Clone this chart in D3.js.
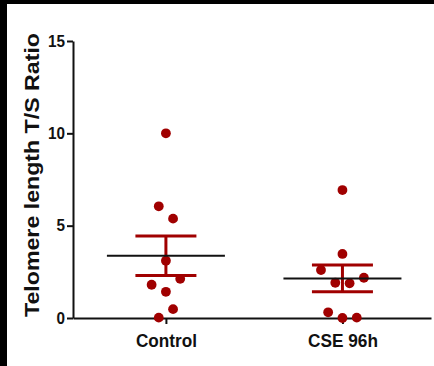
<!DOCTYPE html>
<html>
<head>
<meta charset="utf-8">
<script src="https://cdn.jsdelivr.net/npm/d3@7"></script>
<style>
  html, body { margin: 0; padding: 0; background: #fff; }
  svg { display: block; font-family: "Liberation Sans", Arial, sans-serif; }
</style>
</head>
<body>
<div id="chart"></div>
<script>
// values (row order = left-to-right order in the swarm)
const categories = ['Control', 'CSE 96h'];
const controlValues = [10.0, 6.05, 5.38, 3.1, 1.8, 1.42, 2.12, 0.02, 0.48];
const cseValues = [6.93, 3.47, 2.6, 1.91, 1.88, 2.18, 0.31, 0.0, 0.02];
const yTicks = [0, 5, 10, 15];
const yTitle = 'Telomere length T/S Ratio';

const groups = [
  { name: categories[0], values: controlValues },
  { name: categories[1], values: cseValues }
];

const width = 434;
const height = 366;
const dotColor = '#a00000';
const axisColor = '#111';

const svg = d3.select('#chart')
  .append('svg')
  .attr('width', width)
  .attr('height', height);

svg.append('rect').attr('width', width).attr('height', height).attr('fill', '#fff');
// black frame strips from the original screenshot
svg.append('rect').attr('x', 0).attr('y', 0).attr('width', 7).attr('height', height).attr('fill', '#000');
svg.append('rect').attr('x', 0).attr('y', 0).attr('width', width).attr('height', 4).attr('fill', '#000');

const x = d3.scalePoint()
  .domain(categories)
  .range([73, 431])
  .padding(0.514)
  .align(0.512);

const y = d3.scaleLinear()
  .domain([0, 15])
  .range([318, 41]);

// y axis
const yAxis = svg.append('g')
  .attr('transform', 'translate(73,0)')
  .call(d3.axisLeft(y)
    .tickValues(yTicks)
    .tickSize(6)
    .tickSizeOuter(0)
    .tickPadding(2)
  );
yAxis.select('.domain').attr('stroke', axisColor).attr('stroke-width', 2);
yAxis.selectAll('.tick line').attr('stroke', axisColor).attr('stroke-width', 2);
yAxis.selectAll('.tick text')
  .attr('fill', '#111')
  .attr('font-size', 16.5)
  .attr('font-weight', 'bold')
  .attr('font-family', '"Liberation Sans", Arial, sans-serif')
  .attr('textLength', d => String(d).length * 8.5)
  .attr('lengthAdjust', 'spacingAndGlyphs');

// x axis
const xAxis = svg.append('g')
  .attr('transform', 'translate(0,318)')
  .call(d3.axisBottom(x)
    .tickSize(6)
    .tickSizeOuter(0)
    .tickPadding(10)
  );
xAxis.select('.domain').attr('stroke', axisColor).attr('stroke-width', 2);
xAxis.selectAll('.tick line').attr('stroke', axisColor).attr('stroke-width', 2);
xAxis.selectAll('.tick text')
  .attr('fill', '#111')
  .attr('font-size', 18)
  .attr('font-weight', 'bold')
  .attr('font-family', '"Liberation Sans", Arial, sans-serif')
  .attr('dy', '0.7em')
  .attr('textLength', d => d === 'Control' ? 61 : 70)
  .attr('lengthAdjust', 'spacingAndGlyphs');

// y title
svg.append('text')
  .attr('transform', 'translate(38.5,175) rotate(-90)')
  .attr('text-anchor', 'middle')
  .attr('font-size', 20)
  .attr('font-weight', 'bold')
  .attr('fill', '#111')
  .attr('textLength', 284)
  .attr('lengthAdjust', 'spacingAndGlyphs')
  .text(yTitle);

// simple row-based swarm: points closer than rowGap px share a row, centred on the category
const rowGap = 14;
const spacing = 14.3;
function swarm(values) {
  const idx = values.map((v, i) => i).sort((a, b) => values[a] - values[b]);
  const rows = [];
  idx.forEach(i => {
    const last = rows[rows.length - 1];
    if (last && y(values[last[0]]) - y(values[i]) < rowGap) last.push(i);
    else rows.push([i]);
  });
  const offsets = new Array(values.length).fill(0);
  rows.forEach(r => {
    r.sort((a, b) => a - b);
    r.forEach((i, k) => { offsets[i] = (k - (r.length - 1) / 2) * spacing; });
  });
  return values.map((v, i) => ({ v, dx: offsets[i] }));
}

groups.forEach(g => {
  const cx = x(g.name);
  const pts = swarm(g.values);
  const mean = d3.mean(g.values);
  const sem = d3.deviation(g.values) / Math.sqrt(g.values.length);

  svg.append('g')
    .selectAll('circle')
    .data(pts)
    .join('circle')
    .attr('cx', d => cx + d.dx)
    .attr('cy', d => y(d.v))
    .attr('r', 4.9)
    .attr('fill', dotColor);

  const eb = svg.append('g')
    .attr('stroke', dotColor)
    .attr('stroke-width', 3);
  eb.append('line')
    .attr('x1', cx).attr('x2', cx)
    .attr('y1', y(mean + sem)).attr('y2', y(mean - sem));
  [mean + sem, mean - sem].forEach(v => {
    eb.append('line')
      .attr('x1', cx - 30.5).attr('x2', cx + 30.5)
      .attr('y1', y(v)).attr('y2', y(v));
  });

  svg.append('line')
    .attr('x1', cx - 59).attr('x2', cx + 59)
    .attr('y1', y(mean)).attr('y2', y(mean))
    .attr('stroke', '#111')
    .attr('stroke-width', 2);
});
</script>
</body>
</html>
